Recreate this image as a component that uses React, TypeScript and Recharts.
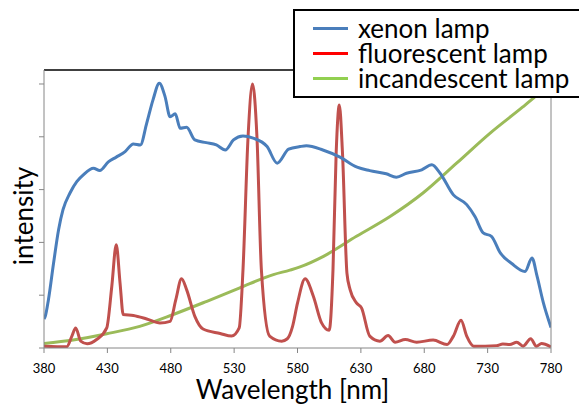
import { Label, Legend, Line, LineChart, ReferenceLine, XAxis, YAxis } from "recharts"

// wavelength (nm) / relative intensity
const xenonWl = [380, 381, 383.5, 387.5, 391.5, 395, 400.5, 406, 411, 419, 424, 431, 437, 444, 450.5, 456, 461, 466, 471, 475.5, 479.5, 483.5, 487.5, 492.5, 499, 508, 516, 523, 529.5, 537, 545, 556, 564, 573, 582, 587, 600, 613.5, 627, 637, 650, 658, 666, 678, 686, 692.5, 703, 713.5, 720, 726.5, 733, 740, 749, 759.5, 765, 769, 774, 780]
const xenonVal = [11, 12, 18.3, 32, 44.8, 52.4, 58.7, 63.1, 65.6, 68.1, 67.2, 70.6, 72.3, 74.4, 77.3, 76.9, 85.1, 94, 100.3, 95.2, 87.6, 88.7, 83.2, 83.6, 78.8, 77.8, 76.9, 75, 78.8, 80.3, 79.5, 76.3, 70, 75.3, 76.3, 76.6, 75, 72.3, 68.5, 67.2, 66, 64.7, 66.2, 67.5, 69.4, 66.2, 58, 54.3, 49.8, 43.6, 42.3, 36, 32, 29, 34.1, 27.2, 17.1, 7.8]

const fluorWl = [380, 398, 402, 405, 409, 414, 421.5, 429.5, 433.5, 437, 440, 442.5, 450.5, 461, 471.5, 479.5, 484, 488.5, 492.5, 499, 505.5, 519, 528, 534, 537, 541, 544.5, 548, 551.5, 558, 567.5, 572, 576, 580, 586, 592.5, 599, 605, 608, 610.5, 613, 615.5, 619, 621.5, 626.5, 630.5, 637, 645, 651.5, 657, 665, 674, 687, 698, 703, 709, 713.5, 719, 737, 742, 747.5, 753, 758, 764, 768.5, 772.5, 780]
const fluorVal = [0.7, 0.5, 4.5, 7.6, 2.6, 1.6, 3.2, 7.6, 23.4, 39.1, 24.6, 12.7, 12.3, 11, 9.5, 10.1, 18.3, 26.2, 22.1, 12, 7.2, 5.5, 4.5, 7.6, 29.7, 80, 100, 80, 29.7, 4.5, 2.6, 3.5, 8, 17, 26.2, 19.6, 9.5, 6.7, 29.7, 73.8, 92, 73.8, 28.4, 22.1, 17.1, 15.2, 4.5, 2.6, 4.7, 2.2, 3.2, 2.2, 3, 1.3, 4.5, 10.5, 4.5, 0.7, 0.9, 1.5, 1.3, 2.2, 0.7, 3.5, 0.7, 1.7, 0.4]

const incandWl = [380, 403, 429.5, 455.5, 482, 508.5, 534.5, 561, 574, 582, 600.5, 626.5, 653, 679, 705.5, 732, 758, 767.5, 780]
const incandVal = [1.7, 3, 5.4, 8.2, 12.7, 17.7, 22.8, 27.8, 29.5, 30.7, 34.7, 42.3, 49.8, 58.7, 70, 81.4, 91.4, 95.2, 100.5]

const xTicks = [380, 430, 480, 530, 580, 630, 680, 730, 780]
const yTicks = [0, 20, 40, 60, 80, 100]
const yMax = 105.3

const legendNames = ["xenon lamp", "fluorescent lamp", "incandescent lamp"]
const legendColors = ["#4a7ebb", "#ff0000", "#92d050"]

const zip = (wl: number[], val: number[]) => wl.map((w, i) => ({ wl: w, v: val[i] }))
const xenonData = zip(xenonWl, xenonVal)
const fluorData = zip(fluorWl, fluorVal)
const incandData = zip(incandWl, incandVal)

const FONT = "Lato, 'Open Sans', sans-serif"
const AXIS_GRAY = "#868686"

function SpectrumLegend() {
  return (
    <div
      style={{
        boxSizing: "border-box",
        width: 288,
        height: 89,
        border: "2px solid #000",
        background: "#fff",
        padding: "5px 0 0 18px",
        fontFamily: FONT,
        fontSize: 26,
        lineHeight: "25px",
        color: "#000",
      }}
    >
      {legendNames.map((name, i) => (
        <div key={name} style={{ display: "flex", alignItems: "center", whiteSpace: "nowrap" }}>
          <span style={{ display: "inline-block", width: 35, height: 3, background: legendColors[i], marginRight: 10 }} />
          <span>{name}</span>
        </div>
      ))}
    </div>
  )
}

export default function App() {
  return (
    <div style={{ position: "absolute", left: 0, top: 0, width: 579, height: 404, overflow: "hidden", background: "#fff" }}>
      <LineChart width={579} height={404} margin={{ top: 70, right: 0, bottom: 0, left: 0 }}>
        <XAxis
          dataKey="wl"
          type="number"
          domain={[380, 780]}
          ticks={xTicks}
          height={56}
          stroke={AXIS_GRAY}
          tickSize={5}
          tickMargin={11}
          tick={{ fill: "#000", fontSize: 13, fontFamily: FONT }}
          allowDataOverflow
        >
          <Label
            content={({ viewBox }: any) => (
              <text
                x={viewBox.x + viewBox.width / 2 - 5}
                y={399}
                textAnchor="middle"
                fontSize={26}
                fontFamily={FONT}
                fill="#000"
              >
                Wavelength [nm]
              </text>
            )}
          />
        </XAxis>
        <YAxis
          type="number"
          domain={[0, yMax]}
          ticks={yTicks}
          width={44}
          stroke={AXIS_GRAY}
          tickSize={5}
          tick={() => <g />}
          allowDataOverflow
        >
          <Label
            content={({ viewBox }: any) => {
              const cx = 33
              const cy = viewBox.y + viewBox.height / 2 + 7
              return (
                <text
                  x={cx}
                  y={cy}
                  transform={`rotate(-90, ${cx}, ${cy})`}
                  textAnchor="middle"
                  fontSize={26}
                  fontFamily={FONT}
                  fill="#000"
                >
                  intensity
                </text>
              )
            }}
          />
        </YAxis>
        <YAxis yAxisId="right" orientation="right" width={28} domain={[0, 1]} tick={false} tickLine={false} stroke={AXIS_GRAY} />
        <ReferenceLine y={yMax} stroke="#000" strokeWidth={1.5} ifOverflow="visible" />
        <Line data={incandData} dataKey="v" name="incandescent lamp" type="monotone" stroke="#9bbb59" strokeWidth={3} dot={false} activeDot={false} isAnimationActive={false} />
        <Line data={fluorData} dataKey="v" name="fluorescent lamp" type="monotone" stroke="#c0504d" strokeWidth={3} dot={false} activeDot={false} isAnimationActive={false} />
        <Line data={xenonData} dataKey="v" name="xenon lamp" type="monotone" stroke="#4a7ebb" strokeWidth={3} dot={false} activeDot={false} isAnimationActive={false} />
        <Legend
          layout="vertical"
          align="center"
          verticalAlign="middle"
          content={() => <SpectrumLegend />}
          wrapperStyle={{ position: "absolute", top: 9, left: 293, width: 288, height: 89 }}
        />
      </LineChart>
    </div>
  )
}
